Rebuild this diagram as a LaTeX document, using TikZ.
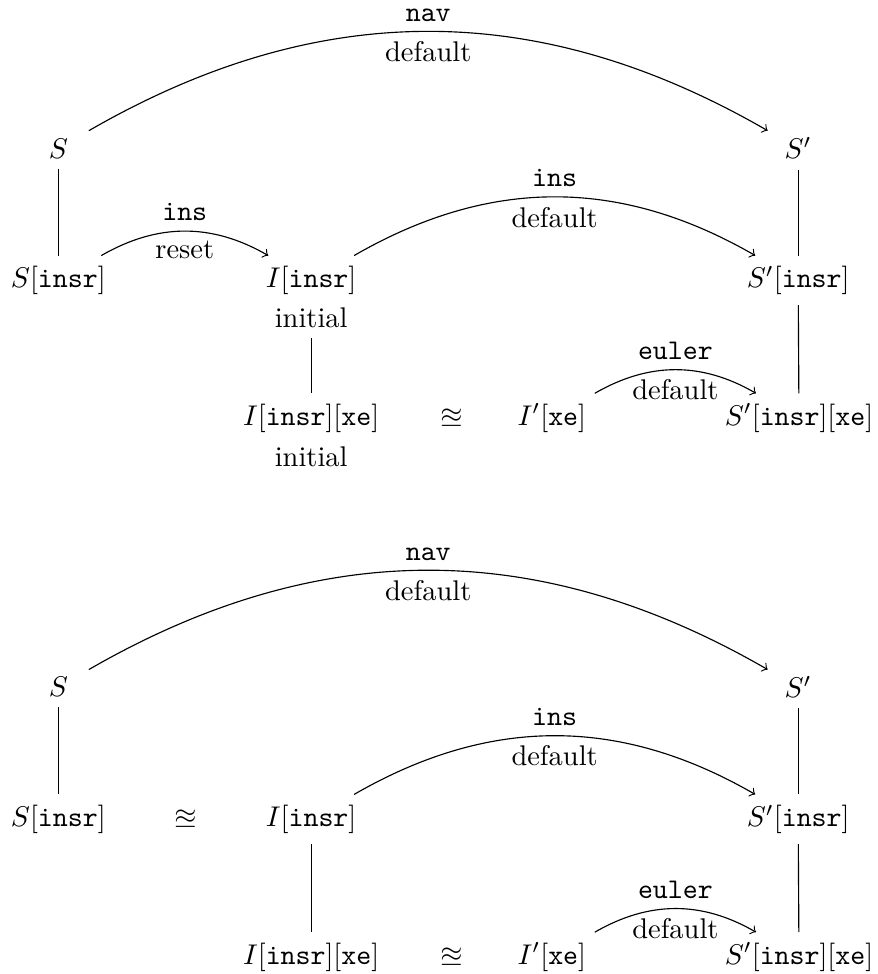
\documentclass[tikz,border=0pt]{standalone}
\usepackage{amsmath,amssymb}
\usepackage{tikz}

\tikzset{
    state/.style={inner sep=3.5pt},
    wide/.style={state, minimum width=21pt},
}

\begin{document}
\begin{tikzpicture}
    \useasboundingbox (0, 0) rectangle (10.83, -12.02);

    \node[wide] (s1) at (0.72, -1.83) {$S$};
    \node[wide] (sp1) at (9.85, -1.83) {$S'$};
    \node[state] (si1) at (0.72, -3.46) {$S[\texttt{insr}]$};
    \node[state] (ii1) at (3.84, -3.46) {$I[\texttt{insr}]$};
    \node[state] (spi1) at (9.85, -3.46) {$S'[\texttt{insr}]$};
    \node[state] (iin1) at (3.84, -3.92) {initial};
    \node[state] (iix1) at (3.84, -5.16) {$I[\texttt{insr}][\texttt{xe}]$};
    \node[state] (iixn1) at (3.84, -5.64) {initial};
    \node[state] (ap1) at (5.57, -5.16) {$\approxeq$};
    \node[state] (ipx1) at (6.81, -5.16) {$I'[\texttt{xe}]$};
    \node[state] (spix1) at (9.86, -5.16) {$S'[\texttt{insr}][\texttt{xe}]$};

    \draw[->] (s1) to[bend left=30] node[above] {\texttt{nav}} node[below] {default} (sp1);
    \draw[->] (si1) to[bend left=30] node[above] {\texttt{ins}} node[below] {reset} (ii1);
    \draw[->] (ii1) to[bend left=30] node[above] {\texttt{ins}} node[below] {default} (spi1);
    \draw[->] (ipx1) to[bend left=30] node[above] {\texttt{euler}} node[below] {default} (spix1);
    \draw (s1) -- (si1);
    \draw (sp1) -- (spi1);
    \draw (spi1) -- (spix1);
    \draw (iin1) -- (iix1);

    \node[wide] (s2) at (0.72, -8.48) {$S$};
    \node[wide] (sp2) at (9.85, -8.48) {$S'$};
    \node[state] (si2) at (0.72, -10.11) {$S[\texttt{insr}]$};
    \node[state] (ap2) at (2.29, -10.11) {$\approxeq$};
    \node[state] (ii2) at (3.84, -10.11) {$I[\texttt{insr}]$};
    \node[state] (spi2) at (9.85, -10.11) {$S'[\texttt{insr}]$};
    \node[state] (iix2) at (3.84, -11.81) {$I[\texttt{insr}][\texttt{xe}]$};
    \node[state] (ap3) at (5.57, -11.81) {$\approxeq$};
    \node[state] (ipx2) at (6.81, -11.81) {$I'[\texttt{xe}]$};
    \node[state] (spix2) at (9.86, -11.81) {$S'[\texttt{insr}][\texttt{xe}]$};

    \draw[->] (s2) to[bend left=30] node[above] {\texttt{nav}} node[below] {default} (sp2);
    \draw[->] (ii2) to[bend left=30] node[above] {\texttt{ins}} node[below] {default} (spi2);
    \draw[->] (ipx2) to[bend left=30] node[above] {\texttt{euler}} node[below] {default} (spix2);
    \draw (s2) -- (si2);
    \draw (sp2) -- (spi2);
    \draw (spi2) -- (spix2);
    \draw (ii2) -- (iix2);
\end{tikzpicture}
\end{document}
